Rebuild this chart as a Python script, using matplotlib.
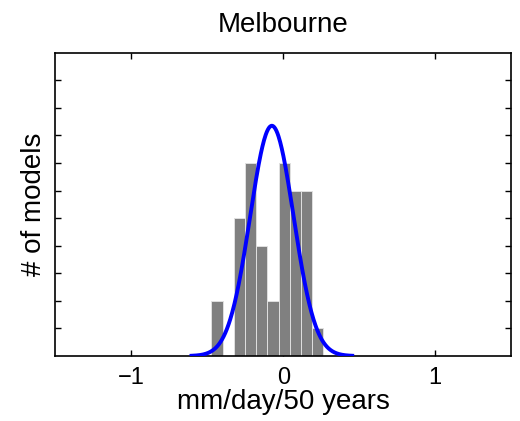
import numpy as np
import matplotlib
matplotlib.use('Agg')
import matplotlib.pyplot as plt

plt.rcParams['font.family'] = ['Liberation Sans', 'DejaVu Sans']

# histogram of model trends (bin centres, counts)
bin_centers = [-0.437, -0.363, -0.289, -0.215, -0.142, -0.068, 0.006, 0.080, 0.154, 0.228]
counts = [2, 0, 5, 7, 4, 2, 7, 6, 6, 1]
bin_width = 0.0739

# fitted normal curve parameters
fit_mean = -0.075
fit_sigma = 0.143
fit_peak = 8.35

fig = plt.figure(figsize=(5.2, 4.21), dpi=100)
ax = fig.add_axes([0.1067, 0.1544, 0.8760, 0.7204])

ax.bar(bin_centers, counts, width=bin_width, color='#808080',
       edgecolor='#e0e0e0', linewidth=0.7, zorder=2)

xs = np.linspace(fit_mean - 3.7 * fit_sigma, fit_mean + 3.7 * fit_sigma, 300)
ys = fit_peak * np.exp(-0.5 * ((xs - fit_mean) / fit_sigma) ** 2)
ax.plot(xs, ys, color='#0000ff', linewidth=2.8, zorder=3)

ax.set_xlim(-1.5, 1.5)
ax.set_ylim(0, 11)
ax.set_xticks([-1, 0, 1])
ax.set_xticklabels(['\u22121', '0', '1'])
ax.set_yticks(range(1, 11))
ax.set_yticklabels([])

ax.tick_params(direction='in', top=True, right=True, length=4, width=1,
               labelsize=17, pad=8)
for s in ax.spines.values():
    s.set_linewidth(1.2)

ax.set_title('Melbourne', fontsize=20, pad=15)
ax.set_xlabel('mm/day/50 years', fontsize=20, labelpad=0)
ax.set_ylabel('# of models', fontsize=20, labelpad=-2)

fig.savefig('out.png', dpi=100)
